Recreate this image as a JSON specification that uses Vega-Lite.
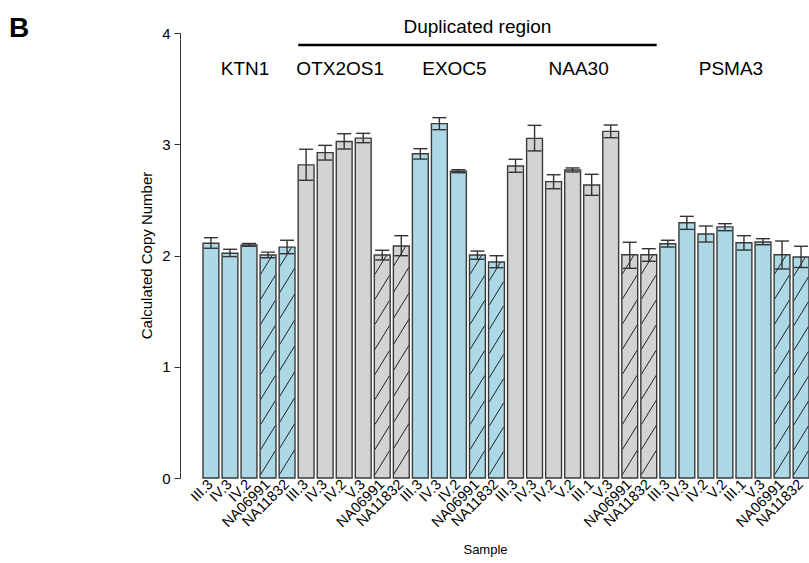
{
  "$schema": "https://vega.github.io/schema/vega-lite/v6.json",
  "autosize": {"type": "none"},
  "width": 606,
  "height": 445,
  "padding": {"left": 203, "top": 33, "right": 0, "bottom": 85},
  "background": "white",
  "config": {
    "view": {"stroke": null},
    "font": "Liberation Sans",
    "text": {"font": "Liberation Sans"}
  },
  "title": {
    "text": "B",
    "anchor": "start",
    "frame": "group",
    "orient": "top",
    "fontSize": 28,
    "fontWeight": "bold",
    "font": "Liberation Sans",
    "color": "black",
    "dx": -194,
    "dy": 47,
    "offset": 0,
    "baseline": "alphabetic"
  },
  "datasets": {
    "bars": [
      {"key": "KTN1|III.3", "gene": "KTN1", "sample": "III.3", "value": 2.11, "lo": 2.065, "hi": 2.16, "ctrl": false},
      {"key": "KTN1|IV.3", "gene": "KTN1", "sample": "IV.3", "value": 2.02, "lo": 1.99, "hi": 2.056, "ctrl": false},
      {"key": "KTN1|IV.2", "gene": "KTN1", "sample": "IV.2", "value": 2.095, "lo": 2.083, "hi": 2.108, "ctrl": false},
      {"key": "KTN1|NA06991", "gene": "KTN1", "sample": "NA06991", "value": 2.005, "lo": 1.98, "hi": 2.03, "ctrl": true},
      {"key": "KTN1|NA11832", "gene": "KTN1", "sample": "NA11832", "value": 2.075, "lo": 2.016, "hi": 2.137, "ctrl": true},
      {"key": "OTX2OS1|III.3", "gene": "OTX2OS1", "sample": "III.3", "value": 2.815, "lo": 2.676, "hi": 2.955, "ctrl": false},
      {"key": "OTX2OS1|IV.3", "gene": "OTX2OS1", "sample": "IV.3", "value": 2.925, "lo": 2.858, "hi": 2.99, "ctrl": false},
      {"key": "OTX2OS1|IV.2", "gene": "OTX2OS1", "sample": "IV.2", "value": 3.025, "lo": 2.957, "hi": 3.095, "ctrl": false},
      {"key": "OTX2OS1|V.3", "gene": "OTX2OS1", "sample": "V.3", "value": 3.055, "lo": 3.014, "hi": 3.098, "ctrl": false},
      {"key": "OTX2OS1|NA06991", "gene": "OTX2OS1", "sample": "NA06991", "value": 2.004, "lo": 1.96, "hi": 2.047, "ctrl": true},
      {"key": "OTX2OS1|NA11832", "gene": "OTX2OS1", "sample": "NA11832", "value": 2.085, "lo": 1.998, "hi": 2.178, "ctrl": true},
      {"key": "EXOC5|III.3", "gene": "EXOC5", "sample": "III.3", "value": 2.915, "lo": 2.867, "hi": 2.96, "ctrl": false},
      {"key": "EXOC5|IV.3", "gene": "EXOC5", "sample": "IV.3", "value": 3.185, "lo": 3.131, "hi": 3.239, "ctrl": false},
      {"key": "EXOC5|IV.2", "gene": "EXOC5", "sample": "IV.2", "value": 2.757, "lo": 2.744, "hi": 2.771, "ctrl": false},
      {"key": "EXOC5|NA06991", "gene": "EXOC5", "sample": "NA06991", "value": 2.004, "lo": 1.966, "hi": 2.04, "ctrl": true},
      {"key": "EXOC5|NA11832", "gene": "EXOC5", "sample": "NA11832", "value": 1.942, "lo": 1.89, "hi": 1.998, "ctrl": true},
      {"key": "NAA30|III.3", "gene": "NAA30", "sample": "III.3", "value": 2.805, "lo": 2.748, "hi": 2.865, "ctrl": false},
      {"key": "NAA30|IV.3", "gene": "NAA30", "sample": "IV.3", "value": 3.053, "lo": 2.94, "hi": 3.17, "ctrl": false},
      {"key": "NAA30|IV.2", "gene": "NAA30", "sample": "IV.2", "value": 2.664, "lo": 2.6, "hi": 2.726, "ctrl": false},
      {"key": "NAA30|V.2", "gene": "NAA30", "sample": "V.2", "value": 2.769, "lo": 2.751, "hi": 2.787, "ctrl": false},
      {"key": "NAA30|III.1", "gene": "NAA30", "sample": "III.1", "value": 2.634, "lo": 2.541, "hi": 2.73, "ctrl": false},
      {"key": "NAA30|V.3", "gene": "NAA30", "sample": "V.3", "value": 3.116, "lo": 3.059, "hi": 3.173, "ctrl": false},
      {"key": "NAA30|NA06991", "gene": "NAA30", "sample": "NA06991", "value": 2.007, "lo": 1.885, "hi": 2.119, "ctrl": true},
      {"key": "NAA30|NA11832", "gene": "NAA30", "sample": "NA11832", "value": 2.007, "lo": 1.948, "hi": 2.061, "ctrl": true},
      {"key": "PSMA3|III.3", "gene": "PSMA3", "sample": "III.3", "value": 2.106, "lo": 2.076, "hi": 2.137, "ctrl": false},
      {"key": "PSMA3|IV.3", "gene": "PSMA3", "sample": "IV.3", "value": 2.295, "lo": 2.235, "hi": 2.352, "ctrl": false},
      {"key": "PSMA3|IV.2", "gene": "PSMA3", "sample": "IV.2", "value": 2.193, "lo": 2.121, "hi": 2.265, "ctrl": false},
      {"key": "PSMA3|V.2", "gene": "PSMA3", "sample": "V.2", "value": 2.257, "lo": 2.223, "hi": 2.286, "ctrl": false},
      {"key": "PSMA3|III.1", "gene": "PSMA3", "sample": "III.1", "value": 2.115, "lo": 2.049, "hi": 2.178, "ctrl": false},
      {"key": "PSMA3|V.3", "gene": "PSMA3", "sample": "V.3", "value": 2.121, "lo": 2.097, "hi": 2.151, "ctrl": false},
      {"key": "PSMA3|NA06991", "gene": "PSMA3", "sample": "NA06991", "value": 2.007, "lo": 1.879, "hi": 2.13, "ctrl": true},
      {"key": "PSMA3|NA11832", "gene": "PSMA3", "sample": "NA11832", "value": 1.987, "lo": 1.892, "hi": 2.083, "ctrl": true}
    ],
    "labelsA": [
      {"label": "KTN1", "anchor": "KTN1|IV.2"},
      {"label": "OTX2OS1", "anchor": "OTX2OS1|IV.2"},
      {"label": "EXOC5", "anchor": "EXOC5|IV.2"}
    ],
    "labelsB": [
      {"label": "NAA30", "anchor": "NAA30|V.2"},
      {"label": "PSMA3", "anchor": "PSMA3|V.2"}
    ],
    "region": [
      {"label": "Duplicated region", "from": "OTX2OS1|III.3", "to": "NAA30|NA11832", "mid": "EXOC5|NA06991"}
    ]
  },
  "data": {"name": "bars"},
  "layer": [
    {
      "mark": {"type": "bar", "stroke": null},
      "encoding": {
        "x": {
          "field": "key",
          "type": "nominal",
          "sort": null,
          "scale": {
            "domain": ["KTN1|III.3", "KTN1|IV.3", "KTN1|IV.2", "KTN1|NA06991", "KTN1|NA11832",
                       "OTX2OS1|III.3", "OTX2OS1|IV.3", "OTX2OS1|IV.2", "OTX2OS1|V.3", "OTX2OS1|NA06991", "OTX2OS1|NA11832",
                       "EXOC5|III.3", "EXOC5|IV.3", "EXOC5|IV.2", "EXOC5|NA06991", "EXOC5|NA11832",
                       "NAA30|III.3", "NAA30|IV.3", "NAA30|IV.2", "NAA30|V.2", "NAA30|III.1", "NAA30|V.3", "NAA30|NA06991", "NAA30|NA11832",
                       "PSMA3|III.3", "PSMA3|IV.3", "PSMA3|IV.2", "PSMA3|V.2", "PSMA3|III.1", "PSMA3|V.3", "PSMA3|NA06991", "PSMA3|NA11832"],
            "paddingInner": 0.1667,
            "paddingOuter": 0
          },
          "axis": {
            "title": "Sample",
            "titleFont": "Liberation Sans",
            "titleFontSize": 13,
            "titleFontWeight": "normal",
            "titleColor": "black",
            "titleX": 282,
            "titleY": 71,
            "titleBaseline": "middle",
            "titleAlign": "center",
            "domain": false,
            "ticks": false,
            "labelAngle": -45,
            "labelAlign": "right",
            "labelBaseline": "middle",
            "labelPadding": 4,
            "labelFont": "Liberation Sans",
            "labelFontSize": 14.5,
            "labelColor": "black",
            "labelOverlap": false,
            "labelBound": false,
            "labelFlush": false,
            "labelExpr": "split(datum.label, '|')[1]"
          }
        },
        "y": {
          "field": "value",
          "type": "quantitative",
          "scale": {"domain": [0, 4], "nice": false, "zero": true},
          "axis": {
            "title": "Calculated Copy Number",
            "titleFont": "Liberation Sans",
            "titleFontSize": 15,
            "titleFontWeight": "normal",
            "titleColor": "black",
            "titleX": -34,
            "titleY": 222,
            "titleAngle": -90,
            "titleAlign": "center",
            "titleBaseline": "middle",
            "values": [0, 1, 2, 3, 4],
            "format": "d",
            "offset": 23,
            "grid": false,
            "domainColor": "#333333",
            "domainWidth": 1,
            "tickColor": "#333333",
            "tickSize": 6,
            "tickWidth": 1,
            "labelFont": "Liberation Sans",
            "labelFontSize": 15,
            "labelColor": "black",
            "labelPadding": 4
          }
        },
        "fill": {
          "field": "gene",
          "type": "nominal",
          "scale": {
            "domain": ["KTN1", "OTX2OS1", "EXOC5", "NAA30", "PSMA3"],
            "range": ["#add8e6", "#d3d3d3", "#add8e6", "#d3d3d3", "#add8e6"]
          },
          "legend": null
        }
      }
    },
    {
      "transform": [{"filter": "datum.ctrl"}],
      "mark": {
        "type": "point",
        "shape": "M-0.066,-0.03L0.066,-0.2457M-0.066,-0.2547L0.066,-0.4704M-0.066,-0.4794L0.066,-0.6951M-0.066,-0.7041L0.066,-0.9198M-0.066,-0.9288L0.066,-1.1445M-0.066,-1.1535L0.066,-1.3692M-0.066,-1.3782L0.066,-1.5939M-0.066,-1.6029L0.066,-1.8186M-0.066,-1.8276L0.0395,-2",
        "filled": false,
        "stroke": "#222222",
        "strokeWidth": 1,
        "opacity": 1
      },
      "encoding": {
        "x": {"field": "key", "type": "nominal", "sort": null},
        "y": {"datum": 0, "type": "quantitative"},
        "size": {
          "field": "value",
          "type": "quantitative",
          "scale": {"type": "pow", "exponent": 2, "domain": [0, 4], "range": [0, 198025]},
          "legend": null
        }
      }
    },
    {
      "mark": {"type": "bar", "fill": "transparent", "stroke": "#3a3a3a", "strokeWidth": 1.4},
      "encoding": {
        "x": {"field": "key", "type": "nominal", "sort": null},
        "y": {"field": "value", "type": "quantitative"}
      }
    },
    {
      "mark": {"type": "rule", "color": "#333333", "strokeWidth": 1.4},
      "encoding": {
        "x": {"field": "key", "type": "nominal", "sort": null},
        "y": {"field": "lo", "type": "quantitative"},
        "y2": {"field": "hi"}
      }
    },
    {
      "mark": {"type": "tick", "orient": "horizontal", "size": 14, "thickness": 1.4, "color": "#333333", "opacity": 1},
      "encoding": {
        "x": {"field": "key", "type": "nominal", "sort": null},
        "y": {"field": "lo", "type": "quantitative"}
      }
    },
    {
      "mark": {"type": "tick", "orient": "horizontal", "size": 14, "thickness": 1.4, "color": "#333333", "opacity": 1},
      "encoding": {
        "x": {"field": "key", "type": "nominal", "sort": null},
        "y": {"field": "hi", "type": "quantitative"}
      }
    },
    {
      "data": {"name": "region"},
      "mark": {"type": "rule", "color": "black", "strokeWidth": 2.5, "clip": false},
      "encoding": {
        "x": {"field": "from", "type": "nominal", "bandPosition": 0},
        "x2": {"field": "to", "bandPosition": 1},
        "y": {"datum": 3.892, "type": "quantitative"}
      }
    },
    {
      "data": {"name": "region"},
      "mark": {"type": "text", "font": "Liberation Sans", "fontSize": 19, "color": "black", "align": "center", "baseline": "middle", "clip": false},
      "encoding": {
        "x": {"field": "mid", "type": "nominal"},
        "y": {"datum": 4.058, "type": "quantitative"},
        "text": {"field": "label"}
      }
    },
    {
      "data": {"name": "labelsA"},
      "mark": {"type": "text", "font": "Liberation Sans", "fontSize": 19, "color": "black", "align": "center", "baseline": "middle", "dx": -4},
      "encoding": {
        "x": {"field": "anchor", "type": "nominal"},
        "y": {"datum": 3.676, "type": "quantitative"},
        "text": {"field": "label"}
      }
    },
    {
      "data": {"name": "labelsB"},
      "mark": {"type": "text", "font": "Liberation Sans", "fontSize": 19, "color": "black", "align": "center", "baseline": "middle", "dx": 6},
      "encoding": {
        "x": {"field": "anchor", "type": "nominal"},
        "y": {"datum": 3.676, "type": "quantitative"},
        "text": {"field": "label"}
      }
    }
  ]
}
